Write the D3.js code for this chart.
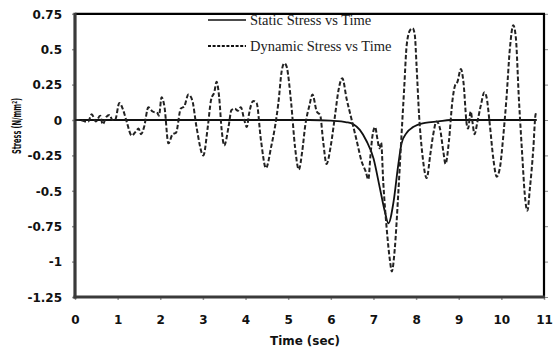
<!DOCTYPE html>
<html>
<head>
<meta charset="utf-8">
<script src="https://cdn.jsdelivr.net/npm/d3@7"></script>
<style>
  body { margin: 0; background: #fff; }
  svg { display: block; }
</style>
</head>
<body>
<svg id="chart" width="553" height="347"></svg>
<script>
// Axis ticks
const timeTicks = [0, 1, 2, 3, 4, 5, 6, 7, 8, 9, 10, 11];
const stressTicks = [0.75, 0.5, 0.25, 0, -0.25, -0.5, -0.75, -1, -1.25];
const stressTickLabels = ["0.75", "0.5", "0.25", "0", "-0.25", "-0.5", "-0.75", "-1", "-1.25"];
const seriesNames = ["Static Stress vs Time", "Dynamic Stress vs Time"];

// Static stress (N/mm²) against time (sec)
const staticTime = [0, 5.5, 6.0, 6.37, 6.53, 6.68, 6.84, 7.0, 7.15, 7.27, 7.35, 7.47, 7.58, 7.66, 7.78, 7.93, 8.21, 8.52, 8.8, 10.83];
const staticStress = [0, 0, -0.005, -0.016, -0.03, -0.07, -0.15, -0.27, -0.48, -0.65, -0.73, -0.58, -0.32, -0.165, -0.09, -0.05, -0.02, -0.01, 0, 0];

// Dynamic stress (N/mm²) against time (sec)
const dynamicTime = [
  0.00, 0.12, 0.23, 0.31, 0.39, 0.49, 0.59, 0.65, 0.73, 0.81, 0.88, 0.94,
  1.04, 1.13, 1.21, 1.33, 1.43, 1.49, 1.55, 1.62, 1.72, 1.82, 1.93, 1.97,
  2.03, 2.10, 2.19, 2.29, 2.37, 2.48, 2.56, 2.66, 2.75, 2.85,
  3.01, 3.11, 3.19, 3.27, 3.32, 3.38, 3.44, 3.50, 3.60, 3.67, 3.75, 3.82, 3.89, 3.97,
  4.03, 4.08, 4.18, 4.26, 4.36, 4.48, 4.60, 4.69, 4.77, 4.85, 4.91, 4.96,
  5.07, 5.16, 5.25, 5.33, 5.40, 5.50, 5.57, 5.67, 5.75, 5.82, 5.90,
  6.00, 6.10, 6.18, 6.27, 6.37, 6.49, 6.61, 6.72, 6.82, 6.88, 6.93, 6.98,
  7.04, 7.09, 7.14, 7.18, 7.23, 7.31, 7.39, 7.43, 7.50, 7.58, 7.65, 7.72, 7.78, 7.86, 7.92, 7.97,
  8.01, 8.07, 8.15, 8.25, 8.33, 8.40, 8.48, 8.56, 8.64, 8.69, 8.77, 8.85, 8.91, 8.97,
  9.05, 9.11, 9.19, 9.22, 9.28, 9.32, 9.37, 9.44, 9.52, 9.60, 9.65, 9.73, 9.81, 9.89, 9.97,
  10.04, 10.12, 10.20, 10.28, 10.34, 10.41, 10.49, 10.55, 10.61, 10.67, 10.75, 10.80, 10.83
];
const dynamicStress = [
  0, 0, -0.01, -0.01, 0.04, -0.01, 0.03, -0.03, 0.02, 0.035, 0, 0,
  0.12, 0.07, -0.01, -0.11, -0.08, -0.06, -0.10, -0.05, 0.09, 0.06, 0.05, 0.03,
  0.16, 0.09, -0.165, -0.10, -0.09, 0.08, 0.095, 0.18, 0.14, -0.05,
  -0.25, -0.06, 0.14, 0.20, 0.27, 0.165, -0.07, -0.18, -0.05, 0.07, 0.08, 0.065, 0.09, 0,
  -0.05, 0.04, 0.135, 0.12, -0.14, -0.34, -0.19, -0.05, 0.12, 0.35, 0.40, 0.38,
  0.12, -0.19, -0.35, -0.22, -0.04, 0.105, 0.18, 0.06, 0.035, -0.15, -0.31,
  -0.18, 0.035, 0.21, 0.295, 0.15, 0, -0.15, -0.29, -0.365, -0.42, -0.25, -0.105,
  -0.05, -0.13, -0.20, -0.16, -0.44, -0.765, -1.0, -1.07, -0.91, -0.53, -0.15, 0.22, 0.53, 0.635, 0.648, 0.60,
  0.39, 0.035, -0.25, -0.41, -0.25, -0.105, -0.01, -0.06, -0.225, -0.31, -0.15, 0.13, 0.24, 0.27,
  0.36, 0.27, -0.035, -0.06, 0.06, -0.01, -0.10, -0.01, 0.105, 0.195, 0.165, -0.035, -0.27, -0.40, -0.33,
  -0.13, 0.155, 0.505, 0.67, 0.58, 0.155, -0.25, -0.53, -0.64, -0.48, -0.20, 0.035, 0.06
];

const svg = d3.select("#chart");
const plot = { left: 75, right: 544, top: 13.8, bottom: 297 };

const x = d3.scaleLinear().domain([0, 11]).range([plot.left, plot.right]);
const y = d3.scaleLinear().domain([-1.25, 0.75]).range([plot.bottom, plot.top]);

const staticData = staticTime.map((t, i) => [t, staticStress[i]]);
const dynamicData = dynamicTime.map((t, i) => [t, dynamicStress[i]]);

const line = d3.line()
  .x(d => x(d[0]))
  .y(d => y(d[1]))
  .curve(d3.curveMonotoneX);

const tickFont = "'DejaVu Sans', sans-serif";

// Bottom axis: short grey ticks, bold labels
const xAxis = d3.axisBottom(x).tickValues(timeTicks).tickSize(3).tickPadding(15).tickFormat(d3.format("d"));
const gx = svg.append("g").attr("transform", `translate(0,${plot.bottom})`).call(xAxis);
gx.select(".domain").remove();
gx.selectAll(".tick line").attr("stroke", "#999").attr("stroke-width", 1.5);
gx.selectAll(".tick text")
  .attr("font-family", tickFont).attr("font-weight", "bold").attr("font-size", 12).attr("fill", "#111");

// Left axis
const yAxis = d3.axisLeft(y).tickValues(stressTicks).tickSize(3).tickPadding(10)
  .tickFormat((d, i) => stressTickLabels[i]);
const gy = svg.append("g").attr("transform", `translate(${plot.left},0)`).call(yAxis);
gy.select(".domain").remove();
gy.selectAll(".tick line").attr("stroke", "#999").attr("stroke-width", 1.5);
gy.selectAll(".tick text")
  .attr("font-family", tickFont).attr("font-weight", "bold").attr("font-size", 12).attr("fill", "#111")
  .attr("dy", "0.35em");

// Right-side tick marks
const gr = svg.append("g").attr("transform", `translate(${plot.right},0)`)
  .call(d3.axisRight(y).tickValues(stressTicks).tickSize(4).tickFormat(""));
gr.select(".domain").remove();
gr.selectAll(".tick line").attr("stroke", "#888").attr("stroke-width", 1);

// Plot frame
svg.append("line").attr("x1", plot.left).attr("x2", plot.right + 1).attr("y1", plot.top).attr("y2", plot.top)
  .attr("stroke", "#000").attr("stroke-width", 2.2);
svg.append("line").attr("x1", plot.right).attr("x2", plot.right).attr("y1", plot.top).attr("y2", plot.bottom)
  .attr("stroke", "#000").attr("stroke-width", 2.2);
svg.append("line").attr("x1", plot.left).attr("x2", plot.left).attr("y1", plot.top - 1).attr("y2", plot.bottom + 1.5)
  .attr("stroke", "#3a3a3a").attr("stroke-width", 3.2);
svg.append("line").attr("x1", plot.left - 1.5).attr("x2", plot.right + 1).attr("y1", plot.bottom).attr("y2", plot.bottom)
  .attr("stroke", "#3a3a3a").attr("stroke-width", 3.2);

// Series
svg.append("path").datum(staticData).attr("d", line)
  .attr("fill", "none").attr("stroke", "#111").attr("stroke-width", 1.8);
svg.append("path").datum(dynamicData).attr("d", line)
  .attr("fill", "none").attr("stroke", "#222").attr("stroke-width", 2)
  .attr("stroke-dasharray", "4.5,2.2");

// Legend
const legend = svg.append("g");
const legendRows = [
  { name: seriesNames[0], y: 20, dash: null },
  { name: seriesNames[1], y: 46, dash: "3,1.6" }
];
legendRows.forEach(r => {
  legend.append("line").attr("x1", 208).attr("x2", 246).attr("y1", r.y).attr("y2", r.y)
    .attr("stroke", "#111").attr("stroke-width", r.dash ? 2 : 1.6)
    .attr("stroke-dasharray", r.dash);
  legend.append("text").attr("x", 250).attr("y", r.y + 4.5)
    .attr("font-family", "'Liberation Serif', 'Times New Roman', serif")
    .attr("font-size", 14.5).attr("fill", "#222").text(r.name);
});

// Axis titles
svg.append("text").attr("x", 305).attr("y", 345)
  .attr("text-anchor", "middle")
  .attr("font-family", tickFont).attr("font-weight", "bold").attr("font-size", 11.5)
  .attr("textLength", 70).attr("lengthAdjust", "spacingAndGlyphs")
  .attr("fill", "#111").text("Time (sec)");

svg.append("text")
  .attr("transform", "translate(21,126) rotate(-90)")
  .attr("text-anchor", "middle")
  .attr("font-family", tickFont).attr("font-weight", "bold").attr("font-size", 12)
  .attr("textLength", 56).attr("lengthAdjust", "spacingAndGlyphs")
  .attr("fill", "#111").text("Stress (N/mm²)");
</script>
</body>
</html>
